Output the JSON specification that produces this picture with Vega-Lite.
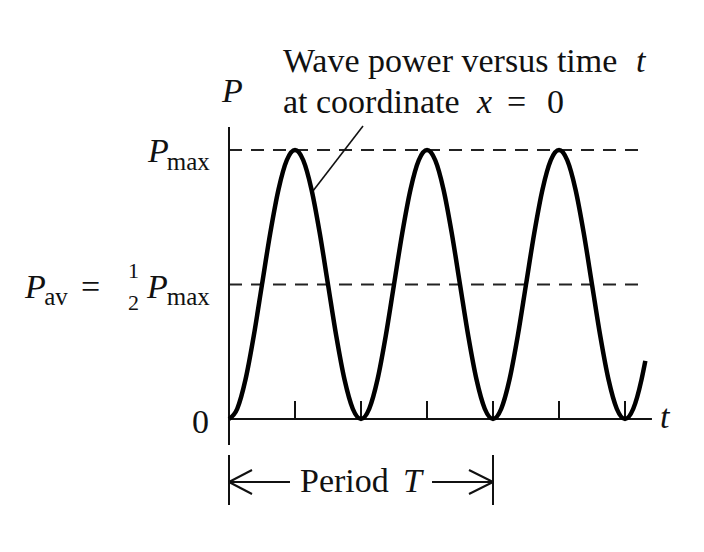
{
  "$schema": "https://vega.github.io/schema/vega-lite/v6.json",
  "width": 704,
  "height": 552,
  "padding": 0,
  "autosize": {"type": "none"},
  "background": "white",
  "config": {"view": {"stroke": null}},
  "datasets": {
    "curve": [
      {"t": 0, "P": 0}, {"t": 0.03125, "P": 0.0381}, {"t": 0.0625, "P": 0.1464}, {"t": 0.09375, "P": 0.3087},
      {"t": 0.125, "P": 0.5}, {"t": 0.15625, "P": 0.6913}, {"t": 0.1875, "P": 0.8536}, {"t": 0.21875, "P": 0.9619},
      {"t": 0.25, "P": 1}, {"t": 0.28125, "P": 0.9619}, {"t": 0.3125, "P": 0.8536}, {"t": 0.34375, "P": 0.6913},
      {"t": 0.375, "P": 0.5}, {"t": 0.40625, "P": 0.3087}, {"t": 0.4375, "P": 0.1464}, {"t": 0.46875, "P": 0.0381},
      {"t": 0.5, "P": 0}, {"t": 0.53125, "P": 0.0381}, {"t": 0.5625, "P": 0.1464}, {"t": 0.59375, "P": 0.3087},
      {"t": 0.625, "P": 0.5}, {"t": 0.65625, "P": 0.6913}, {"t": 0.6875, "P": 0.8536}, {"t": 0.71875, "P": 0.9619},
      {"t": 0.75, "P": 1}, {"t": 0.78125, "P": 0.9619}, {"t": 0.8125, "P": 0.8536}, {"t": 0.84375, "P": 0.6913},
      {"t": 0.875, "P": 0.5}, {"t": 0.90625, "P": 0.3087}, {"t": 0.9375, "P": 0.1464}, {"t": 0.96875, "P": 0.0381},
      {"t": 1, "P": 0}, {"t": 1.03125, "P": 0.0381}, {"t": 1.0625, "P": 0.1464}, {"t": 1.09375, "P": 0.3087},
      {"t": 1.125, "P": 0.5}, {"t": 1.15625, "P": 0.6913}, {"t": 1.1875, "P": 0.8536}, {"t": 1.21875, "P": 0.9619},
      {"t": 1.25, "P": 1}, {"t": 1.28125, "P": 0.9619}, {"t": 1.3125, "P": 0.8536}, {"t": 1.34375, "P": 0.6913},
      {"t": 1.375, "P": 0.5}, {"t": 1.40625, "P": 0.3087}, {"t": 1.4375, "P": 0.1464}, {"t": 1.46875, "P": 0.0381},
      {"t": 1.5, "P": 0}, {"t": 1.53125, "P": 0.0381}, {"t": 1.5625, "P": 0.1464}, {"t": 1.577, "P": 0.216}
    ],
    "solid": [
      {"t": 0, "P": -0.0967, "t2": 0, "P2": 1.0855},
      {"t": 0, "P": 0, "t2": 1.602, "P2": 0},
      {"t": 0.25, "P": 0, "t2": 0.25, "P2": 0.067},
      {"t": 0.5, "P": 0, "t2": 0.5, "P2": 0.067},
      {"t": 0.75, "P": 0, "t2": 0.75, "P2": 0.067},
      {"t": 1, "P": 0, "t2": 1, "P2": 0.067},
      {"t": 1.25, "P": 0, "t2": 1.25, "P2": 0.067},
      {"t": 1.5, "P": 0, "t2": 1.5, "P2": 0.067},
      {"t": 0, "P": -0.1338, "t2": 0, "P2": -0.3197},
      {"t": 1, "P": -0.1338, "t2": 1, "P2": -0.3197},
      {"t": 0, "P": -0.2342, "t2": 0.231, "P2": -0.2342},
      {"t": 0.769, "P": -0.2342, "t2": 1, "P2": -0.2342},
      {"t": 0, "P": -0.2342, "t2": 0.0871, "P2": -0.1896},
      {"t": 0, "P": -0.2342, "t2": 0.0871, "P2": -0.2788},
      {"t": 1, "P": -0.2342, "t2": 0.909, "P2": -0.1896},
      {"t": 1, "P": -0.2342, "t2": 0.909, "P2": -0.2788}
    ],
    "dashed": [
      {"t": 0, "P": 1, "t2": 1.58, "P2": 1},
      {"t": 0, "P": 0.5, "t2": 1.58, "P2": 0.5}
    ],
    "leader": [
      {"t": 0.5076, "P": 1.0892, "t2": 0.318, "P2": 0.8476}
    ],
    "italic": [
      {"text": "P", "t": -0.0265, "P": 1.1784},
      {"text": "P", "t": -0.3068, "P": 0.9554},
      {"text": "P", "t": -0.7727, "P": 0.4498},
      {"text": "P", "t": -0.3106, "P": 0.4498},
      {"text": "t", "t": 1.5417, "P": 1.29},
      {"text": "x", "t": 0.9394, "P": 1.1375},
      {"text": "T", "t": 0.6591, "P": -0.2714},
      {"text": "t", "t": 1.6326, "P": -0.0335}
    ],
    "roman": [
      {"text": "Wave power versus time", "t": 0.2045, "P": 1.29},
      {"text": "at coordinate", "t": 0.2045, "P": 1.1375},
      {"text": "=", "t": 1.053, "P": 1.1375},
      {"text": "0", "t": 1.2045, "P": 1.1375},
      {"text": "Period", "t": 0.2689, "P": -0.2714},
      {"text": "0", "t": -0.14, "P": -0.052},
      {"text": "=", "t": -0.5606, "P": 0.4498}
    ],
    "sub": [
      {"text": "max", "t": -0.236, "P": 0.9257},
      {"text": "av", "t": -0.7, "P": 0.4238},
      {"text": "max", "t": -0.236, "P": 0.4238}
    ],
    "frac": [
      {"text": "1", "t": -0.3617, "P": 0.5242},
      {"text": "2", "t": -0.3617, "P": 0.4052}
    ]
  },
  "encoding": {
    "x": {"field": "t", "type": "quantitative", "axis": null, "scale": {"domain": [-0.8674, 1.7992], "nice": false, "zero": false}},
    "y": {"field": "P", "type": "quantitative", "axis": null, "scale": {"domain": [-0.4944, 1.5576], "nice": false, "zero": false}}
  },
  "layer": [
    {
      "data": {"name": "dashed"},
      "mark": {"type": "rule", "color": "#222", "strokeWidth": 2, "strokeDash": [13, 9]},
      "encoding": {"x2": {"field": "t2"}, "y2": {"field": "P2"}}
    },
    {
      "data": {"name": "solid"},
      "mark": {"type": "rule", "color": "#111", "strokeWidth": 2},
      "encoding": {"x2": {"field": "t2"}, "y2": {"field": "P2"}}
    },
    {
      "data": {"name": "leader"},
      "mark": {"type": "rule", "color": "#111", "strokeWidth": 1.6},
      "encoding": {"x2": {"field": "t2"}, "y2": {"field": "P2"}}
    },
    {
      "data": {"name": "curve"},
      "mark": {"type": "line", "color": "#000", "strokeWidth": 4.5, "interpolate": "monotone"},
      "encoding": {"order": {"field": "t", "type": "quantitative"}}
    },
    {
      "data": {"name": "italic"},
      "mark": {"type": "text", "font": "'Liberation Serif', 'DejaVu Serif', serif", "fontStyle": "italic", "fontSize": 34, "align": "left", "baseline": "alphabetic", "color": "#111"},
      "encoding": {"text": {"field": "text"}}
    },
    {
      "data": {"name": "roman"},
      "mark": {"type": "text", "font": "'Liberation Serif', 'DejaVu Serif', serif", "fontSize": 34, "align": "left", "baseline": "alphabetic", "color": "#111"},
      "encoding": {"text": {"field": "text"}}
    },
    {
      "data": {"name": "sub"},
      "mark": {"type": "text", "font": "'Liberation Serif', 'DejaVu Serif', serif", "fontSize": 25, "align": "left", "baseline": "alphabetic", "color": "#111"},
      "encoding": {"text": {"field": "text"}}
    },
    {
      "data": {"name": "frac"},
      "mark": {"type": "text", "font": "'Liberation Serif', 'DejaVu Serif', serif", "fontSize": 22, "align": "center", "baseline": "alphabetic", "color": "#111"},
      "encoding": {"text": {"field": "text"}}
    }
  ]
}
